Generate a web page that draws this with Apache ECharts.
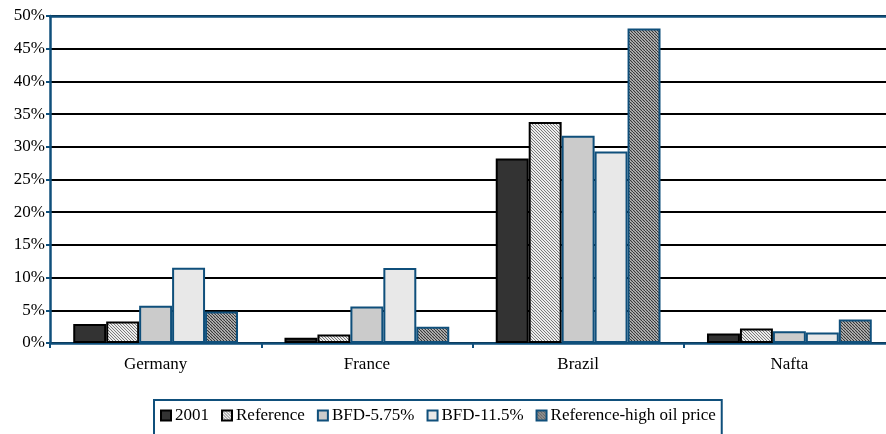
<!DOCTYPE html>
<html><head><meta charset="utf-8">
<script src="https://cdn.jsdelivr.net/npm/echarts@6/dist/echarts.min.js"></script>
<style>html,body{margin:0;padding:0;background:#fff;overflow:hidden}#c{width:895px;height:434px}</style>
</head><body><div id="c"></div>
<script>
const categories = ['Germany', 'France', 'Brazil', 'Nafta'];
const seriesNames = ['2001', 'Reference', 'BFD-5.75%', 'BFD-11.5%', 'Reference-high oil price'];
const v2001 = [2.9, 0.8, 28.2, 1.45];
const vReference = [3.3, 1.3, 33.8, 2.2];
const vBFD575 = [5.7, 5.6, 31.7, 1.8];
const vBFD115 = [11.5, 11.45, 29.3, 1.6];
const vHighOil = [4.8, 2.5, 48.1, 3.6];
const yTicks = [0, 5, 10, 15, 20, 25, 30, 35, 40, 45, 50];

function hatch(bg, fg, period, lw) {
  const c = document.createElement('canvas');
  c.width = period; c.height = period;
  const g = c.getContext('2d');
  g.fillStyle = bg; g.fillRect(0, 0, period, period);
  g.strokeStyle = fg; g.lineWidth = lw;
  g.beginPath();
  for (let k = -1; k <= 1; k++) {
    g.moveTo(k * period, 0); g.lineTo(k * period + period, period);
  }
  g.stroke();
  return { image: c, repeat: 'repeat' };
}
const blue = '#0f4f7b';
const font = '"Liberation Serif", "DejaVu Serif", serif';
const styles = [
  { color: '#333333', borderColor: '#000', borderWidth: 2 },
  { color: hatch('#ececec', '#7a7a7a', 3, 1), borderColor: '#000', borderWidth: 2 },
  { color: '#cbcbcb', borderColor: blue, borderWidth: 2 },
  { color: '#e8e8e8', borderColor: blue, borderWidth: 2 },
  { color: hatch('#d0d0d0', '#333333', 3, 1.2), borderColor: blue, borderWidth: 2 }
];
const values = [v2001, vReference, vBFD575, vBFD115, vHighOil];

const chart = echarts.init(document.getElementById('c'), null, { renderer: 'canvas' });
chart.setOption({
  animation: false,
  backgroundColor: '#fff',
  grid: { left: 50, top: 16, bottom: 91, right: 0 },
  legend: {
    left: 154, top: 400,
    data: seriesNames,
    icon: 'rect', itemWidth: 10, itemHeight: 10, itemGap: 12,
    borderColor: blue, borderWidth: 2,
    padding: [7, 6, 20, 6],
    textStyle: { fontFamily: font, fontSize: 17, color: '#000', padding: [0, 0, 0, -1] }
  },
  xAxis: [{
    type: 'category', data: categories,
    axisLine: { lineStyle: { color: blue, width: 2.5 } },
    axisTick: { show: true, length: 5, lineStyle: { color: blue, width: 2 } },
    axisLabel: { fontFamily: font, fontSize: 17, color: '#000', margin: 13 }
  }, {
    type: 'category', data: categories, position: 'top',
    axisLine: { lineStyle: { color: blue, width: 2.5 } },
    axisTick: { show: false }, axisLabel: { show: false }
  }],
  yAxis: {
    type: 'value', min: 0, max: 50, interval: 5,
    axisLine: { show: true, lineStyle: { color: blue, width: 2.5 } },
    axisTick: { show: true, length: 4, lineStyle: { color: blue, width: 2 } },
    splitLine: { lineStyle: { color: '#000', width: 2 } },
    axisLabel: {
      fontFamily: font, fontSize: 17, color: '#000', margin: 5,
      formatter: v => yTicks.includes(v) ? v + '%' : ''
    }
  },
  series: seriesNames.map((n, i) => ({
    name: n, type: 'bar', data: values[i],
    barGap: '0%', barCategoryGap: '22%',
    itemStyle: styles[i]
  }))
});
</script></body></html>
